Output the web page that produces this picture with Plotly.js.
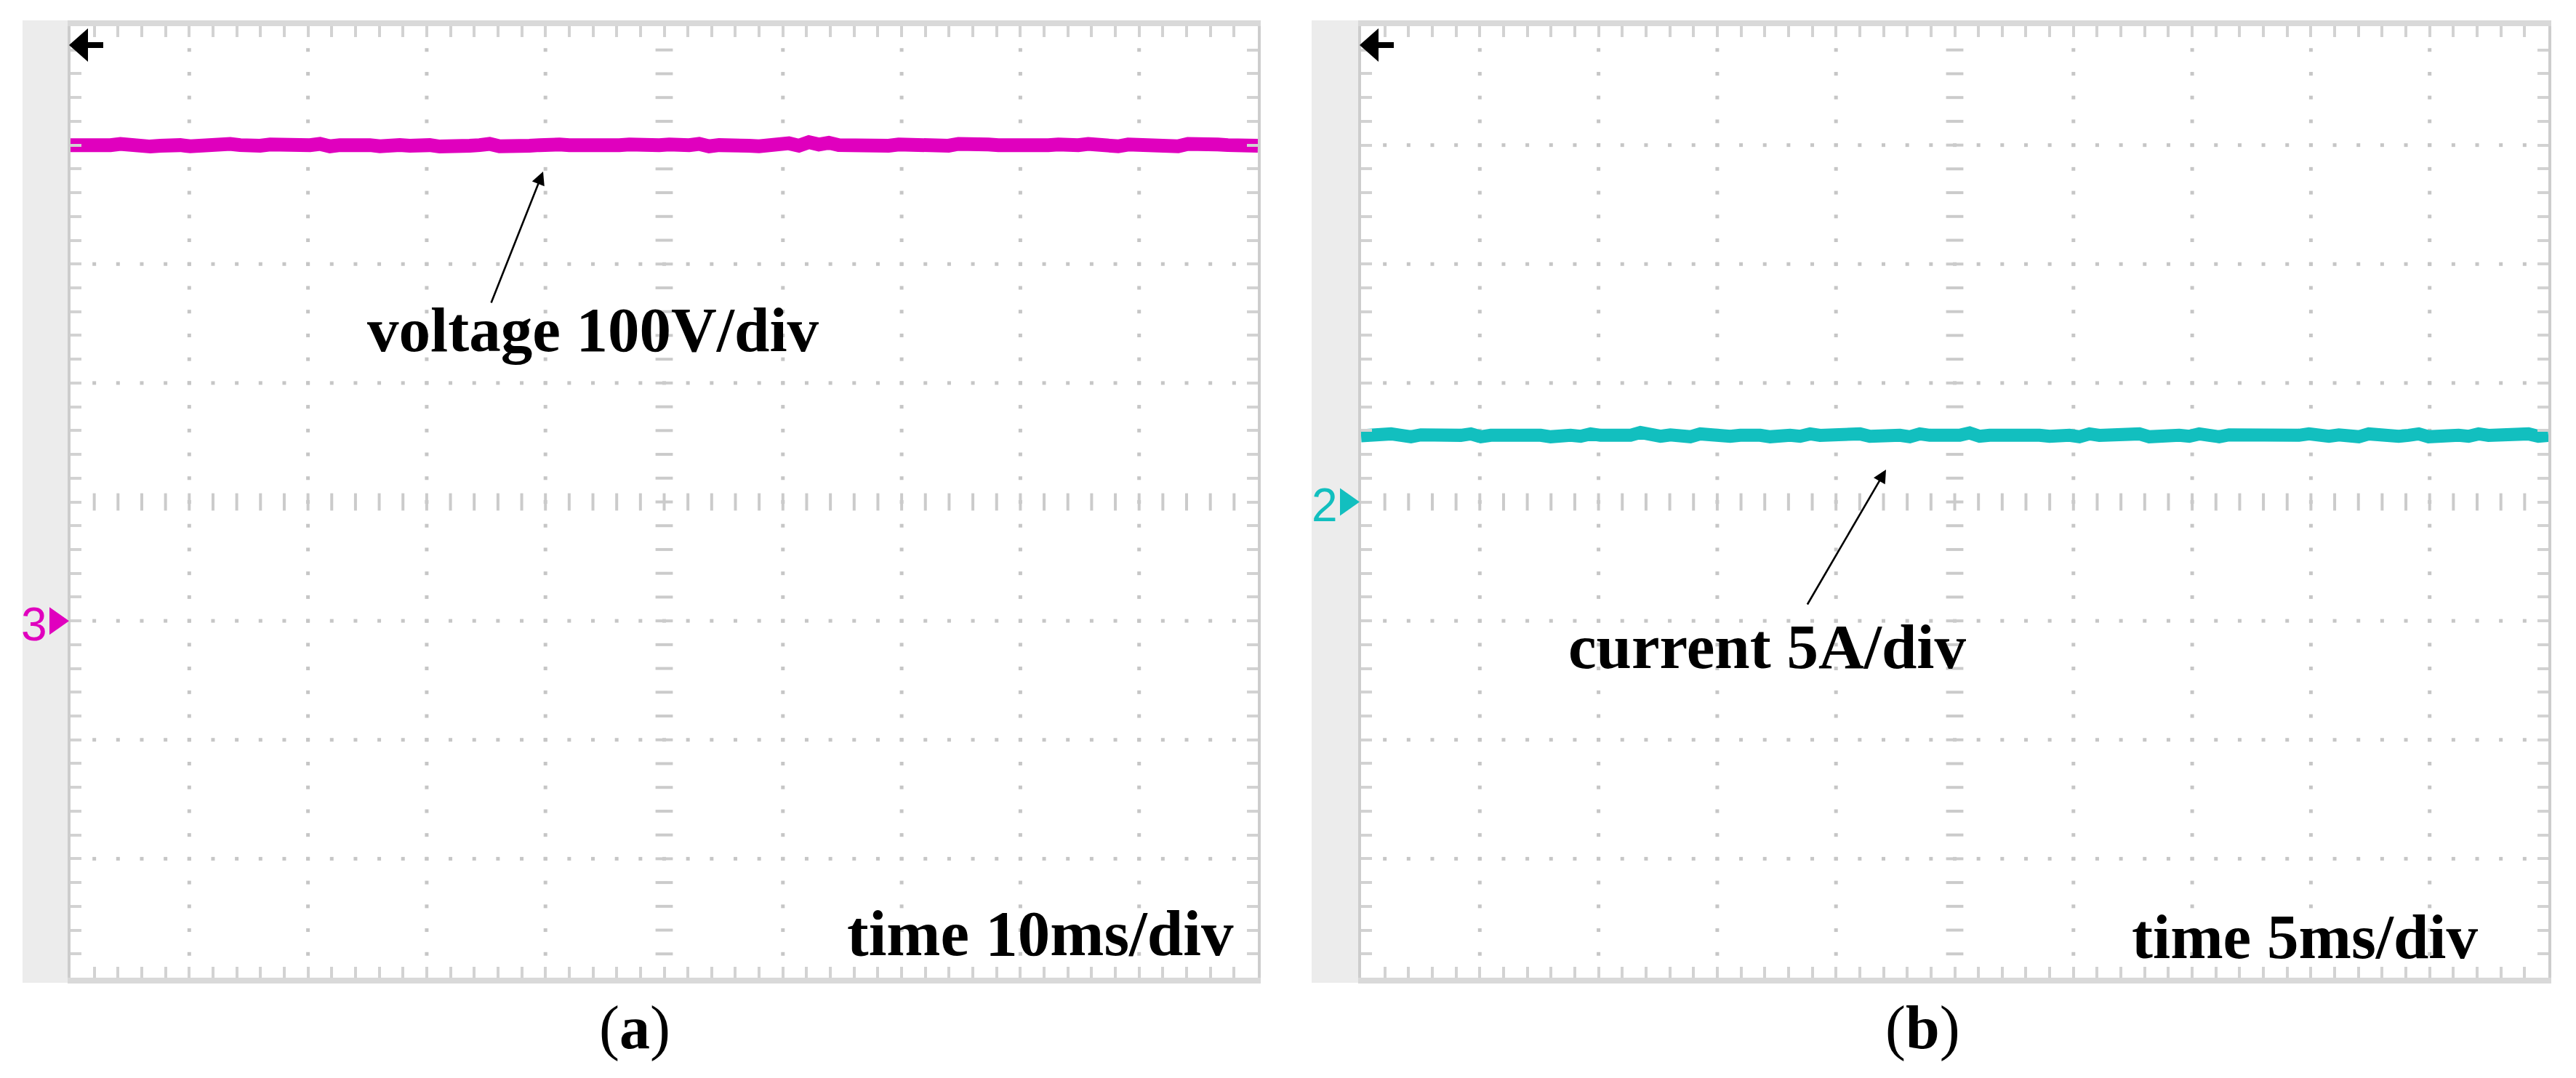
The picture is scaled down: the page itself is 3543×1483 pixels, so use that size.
<!DOCTYPE html>
<html>
<head>
<meta charset="utf-8">
<script src="https://cdn.plot.ly/plotly-3.0.1.min.js"></script>
<style>html,body{margin:0;padding:0;background:#fff;}#chart{width:3543px;height:1483px;}</style>
</head>
<body>
<div id="chart"></div>
<script>
// ---------------- data ----------------
// (a) DC voltage, volts, sampled evenly across the 10 divisions
const voltageV = [
400.0,399.5,400.5,399.0,400.0,401.0,399.5,400.0,398.8,399.5,400.5,400.0,399.0,400.0,400.5,399.5,401.0,400.0,399.0,399.5,
400.5,400.0,398.8,399.5,400.0,401.0,399.0,400.0,400.5,399.5,400.0,399.0,400.5,400.0,399.5,401.0,400.0,398.8,400.0,400.5,
399.5,400.0,401.0,399.0,400.0,400.5,399.5,400.0,399.0,400.5,400.0,399.5,401.0,400.0,399.0,400.0,400.5,399.5,398.8,400.0,
400.5,399.5,400.0,401.0,399.0,400.0,400.5,400.0,399.5,399.0,400.5,400.0,401.5,399.5,402.5,400.5,402.0,400.0,399.5,400.5,
399.0,400.0,399.5,400.5,400.0,399.0,400.5,400.0,399.5,401.0,400.0,399.0,400.5,400.0,399.5,401.0,400.0,399.0,400.0,400.5,
399.5,400.0,401.0,399.5,400.0,399.0,400.5,400.0,399.5,400.5,400.0,399.0,401.0,400.0,399.5,400.5,400.0,399.0,400.0,399.5
];
// (b) DC current, amperes, sampled evenly across the 10 divisions
const currentA = [
2.78,2.82,2.76,2.86,2.80,2.74,2.82,2.80,2.90,2.76,2.80,2.86,2.74,2.80,2.82,2.76,2.80,2.86,2.80,2.74,
2.82,2.80,2.76,2.86,2.80,2.82,2.74,2.80,2.92,2.80,2.76,2.82,2.80,2.74,2.86,2.80,2.82,2.76,2.80,2.86,
2.80,2.74,2.82,2.80,2.76,2.86,2.80,2.82,2.74,2.80,2.86,2.76,2.80,2.82,2.80,2.74,2.86,2.80,2.76,2.82,
2.80,2.90,2.76,2.80,2.82,2.74,2.80,2.86,2.80,2.76,2.82,2.80,2.74,2.86,2.80,2.82,2.76,2.80,2.86,2.74,
2.80,2.82,2.80,2.76,2.86,2.80,2.74,2.82,2.80,2.90,2.76,2.80,2.82,2.74,2.80,2.86,2.80,2.76,2.82,2.80,
2.74,2.86,2.80,2.82,2.76,2.80,2.86,2.74,2.80,2.82,2.80,2.76,2.86,2.80,2.82,2.74,2.80,2.86,2.76,2.80
];
// scope settings
const panelLabels = ['(a)', '(b)'];
const channelNames = ['3', '2'];
const scaleLabels = ['voltage 100V/div', 'current 5A/div'];
const timeLabels = ['time 10ms/div', 'time 5ms/div'];
const perDivY = [100, 5];        // V/div, A/div
const perDivX = [10, 5];         // ms/div
const groundDiv = [-1, 0];       // channel ground marker position (divisions from centre)
const colors = ['#e000be', '#12bfbf'];

// ---------------- layout constants (pixels) ----------------
const W = 3543, H = 1483;
const X0 = [97, 1872], X1 = [1730, 3505], Y0 = 36, Y1 = 1345;
const STRIP = [[31, 96], [1804, 1871]];
const px = v => v / W, py = v => 1 - v / H;
const NX = 10, NY = 8;
const PXDIV = (Y1 - Y0) / NY;

const traces = [];
const layout = {
  width: W, height: H, margin: {l: 0, r: 0, t: 0, b: 0},
  paper_bgcolor: '#ffffff', plot_bgcolor: '#ffffff', showlegend: false,
  shapes: [], annotations: []
};
const series = [voltageV, currentA];

for (let p = 0; p < 2; p++) {
  const xa = p === 0 ? 'x' : 'x2', ya = p === 0 ? 'y' : 'y2';
  const xk = p === 0 ? 'xaxis' : 'xaxis2', yk = p === 0 ? 'yaxis' : 'yaxis2';
  const tMax = NX * perDivX[p];
  const yOff = -groundDiv[p] * perDivY[p]; // value at centre line
  const yMin = yOff - 4 * perDivY[p], yMax = yOff + 4 * perDivY[p];
  const toX = d => d * perDivX[p];
  const toY = d => yOff + d * perDivY[p];

  layout[xk] = {domain: [px(X0[p]), px(X1[p])], range: [0, tMax], anchor: ya,
    showgrid: false, zeroline: false, showticklabels: false, ticks: 'inside',
    ticklen: 15, tickwidth: 4, tickcolor: '#d2d2d2', tick0: 0, dtick: perDivX[p] / 5,
    showline: true, linecolor: '#d9d9d9', linewidth: 8, mirror: 'ticks', fixedrange: true};
  layout[yk] = {domain: [py(Y1), py(Y0)], range: [yMin, yMax], anchor: xa,
    showgrid: false, zeroline: false, showticklabels: false, ticks: 'inside',
    ticklen: 15, tickwidth: 4, tickcolor: '#d2d2d2', tick0: yMin, dtick: perDivY[p] / 5,
    showline: true, linecolor: '#cdcdcd', linewidth: 4, mirror: 'ticks', fixedrange: true};

  // grey side strip
  layout.shapes.push({type: 'rect', xref: 'paper', yref: 'paper', layer: 'below',
    x0: px(STRIP[p][0]), x1: px(STRIP[p][1]), y0: py(1352), y1: py(28),
    fillcolor: '#ececec', line: {width: 0}});

  // dotted graticule
  const gx = [], gy = [], cxv = [], cyv = [], chx = [], chy = [];
  for (let i = 1; i < NX; i++) {
    for (let k = 1; k < NY * 5; k++) {
      const yd = -4 + k * 0.2;
      if (i === NX / 2) { cxv.push(toX(i)); cyv.push(toY(yd)); }
      else { gx.push(toX(i)); gy.push(toY(yd)); }
    }
  }
  for (let j = 1; j < NY; j++) {
    const yd = -4 + j;
    for (let k = 1; k < NX * 5; k++) {
      const xd = k * 0.2;
      if (yd === 0) { chx.push(toX(xd)); chy.push(toY(0)); }
      else { gx.push(toX(xd)); gy.push(toY(yd)); }
    }
  }
  traces.push({x: gx, y: gy, xaxis: xa, yaxis: ya, type: 'scatter', mode: 'markers', hoverinfo: 'skip',
    marker: {symbol: 'square', size: 5, color: '#c6c6c6', line: {width: 0}}});
  traces.push({x: cxv, y: cyv, xaxis: xa, yaxis: ya, type: 'scatter', mode: 'markers', hoverinfo: 'skip',
    marker: {symbol: 'line-ew', size: 17, line: {width: 4, color: '#cbcbcb'}}});
  traces.push({x: chx, y: chy, xaxis: xa, yaxis: ya, type: 'scatter', mode: 'markers', hoverinfo: 'skip',
    marker: {symbol: 'line-ns', size: 17, line: {width: 4, color: '#cbcbcb'}}});

  // signal trace
  const vals = series[p];
  const t = vals.map((_, i) => i * tMax / (vals.length - 1));
  traces.push({x: t, y: vals, xaxis: xa, yaxis: ya, type: 'scatter', mode: 'lines',
    line: {color: colors[p], width: p === 0 ? 19 : 18}, hoverinfo: 'skip'});

  // channel ground marker (number + triangle), placed at the ground level on the y axis
  const g = toY(groundDiv[p]);
  const half = 19 / PXDIV * perDivY[p];
  layout.shapes.push({type: 'path', xref: 'paper', yref: ya, layer: 'above',
    path: 'M ' + px(X0[p] - 29) + ' ' + (g + half) + ' L ' + px(X0[p] - 2) + ' ' + g +
          ' L ' + px(X0[p] - 29) + ' ' + (g - half) + ' Z',
    fillcolor: colors[p], line: {width: 0}});
  layout.annotations.push({xref: 'paper', yref: ya, x: px(X0[p] - 50), y: g - 0.25 * half,
    xanchor: 'center', yanchor: 'middle', showarrow: false, text: channelNames[p],
    font: {family: 'Liberation Sans', size: 64, color: colors[p]}});

  // trigger position arrow at top-left (screen indicator)
  const ax0 = X0[p] - 2;
  layout.shapes.push({type: 'path', xref: 'paper', yref: 'paper', layer: 'above',
    path: 'M ' + px(ax0) + ' ' + py(62) + ' L ' + px(ax0 + 26) + ' ' + py(39) +
          ' L ' + px(ax0 + 26) + ' ' + py(85) + ' Z',
    fillcolor: '#000', line: {width: 0}});
  layout.shapes.push({type: 'rect', xref: 'paper', yref: 'paper', layer: 'above',
    x0: px(ax0 + 20), x1: px(ax0 + 47), y0: py(66), y1: py(58),
    fillcolor: '#000', line: {width: 0}});
}

const serif = {family: 'Liberation Serif', size: 87, color: '#000'};
function label(text, x, y, size) {
  layout.annotations.push({xref: 'paper', yref: 'paper', x: px(x), y: py(y), xanchor: 'center', yanchor: 'middle',
    text: text, showarrow: false, font: Object.assign({}, serif, size ? {size: size} : {})});
}
label('<b>' + scaleLabels[0] + '</b>', 816, 454);
label('<b>' + scaleLabels[1] + '</b>', 2430, 889);
label('<b>' + timeLabels[0] + '</b>', 1431, 1284, 89);
label('<b>' + timeLabels[1] + '</b>', 3170, 1288);
label(panelLabels[0].replace(/([a-z])/, '<b>$1</b>'), 873, 1414, 84);
label(panelLabels[1].replace(/([a-z])/, '<b>$1</b>'), 2644, 1414, 84);

// pointer arrows from labels to traces
layout.annotations.push({xref: 'paper', yref: 'paper', x: px(747), y: py(236), axref: 'pixel', ayref: 'pixel',
  ax: -72, ay: 182, text: '', showarrow: true, arrowhead: 2, arrowsize: 1.4, arrowwidth: 2.6, arrowcolor: '#000'});
layout.annotations.push({xref: 'paper', yref: 'paper', x: px(2594), y: py(646), axref: 'pixel', ayref: 'pixel',
  ax: -109, ay: 187, text: '', showarrow: true, arrowhead: 2, arrowsize: 1.4, arrowwidth: 2.6, arrowcolor: '#000'});

Plotly.newPlot('chart', traces, layout, {staticPlot: true, displayModeBar: false});
</script>
</body>
</html>
